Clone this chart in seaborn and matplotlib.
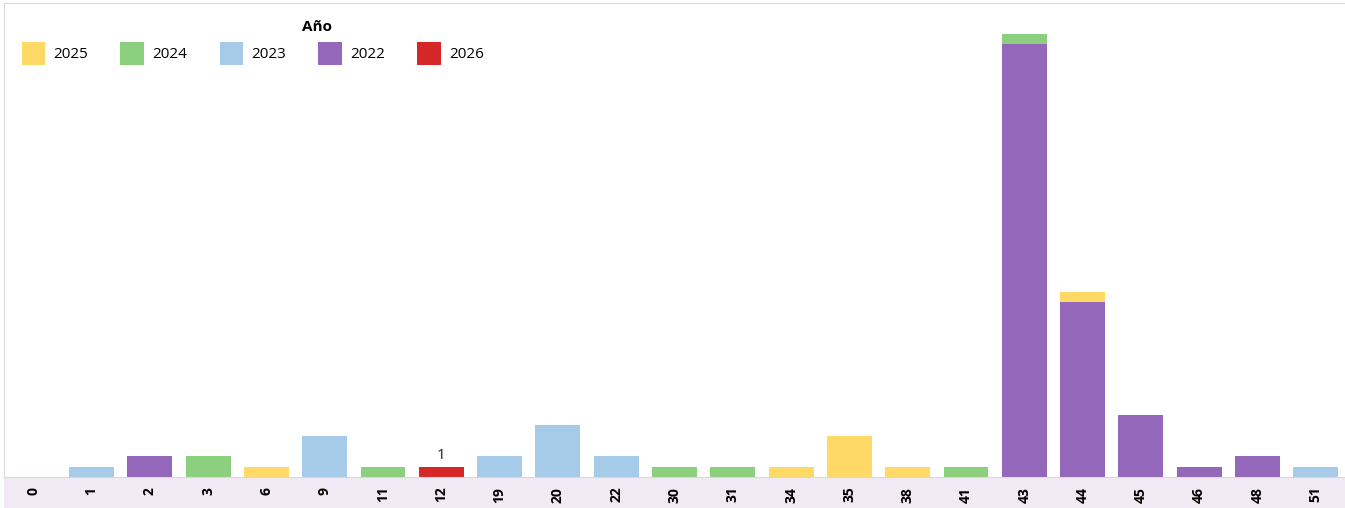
import pandas as pd
import matplotlib.pyplot as plt
import seaborn as sns
from matplotlib.patches import Patch, Rectangle

# Category labels on the x axis (in display order)
categories = ['0', '1', '2', '3', '6', '9', '11', '12', '19', '20', '22', '30',
              '31', '34', '35', '38', '41', '43', '44', '45', '46', '48', '51']

# Counts per year for each category
year_2022 = [0, 0, 2, 0, 0, 0, 0, 0, 0, 0, 0, 0, 0, 0, 0, 0, 0, 42, 17, 6, 1, 2, 0]
year_2023 = [0, 1, 0, 0, 0, 4, 0, 0, 2, 5, 2, 0, 0, 0, 0, 0, 0, 0, 0, 0, 0, 0, 1]
year_2024 = [0, 0, 0, 2, 0, 0, 1, 0, 0, 0, 0, 1, 1, 0, 0, 0, 1, 1, 0, 0, 0, 0, 0]
year_2025 = [0, 0, 0, 0, 1, 0, 0, 0, 0, 0, 0, 0, 0, 1, 4, 1, 0, 0, 1, 0, 0, 0, 0]
year_2026 = [0, 0, 0, 0, 0, 0, 0, 1, 0, 0, 0, 0, 0, 0, 0, 0, 0, 0, 0, 0, 0, 0, 0]

legend_order = ['2025', '2024', '2023', '2022', '2026']
palette = {'2025': '#ffd966', '2024': '#8ccf7e', '2023': '#a6cbe8',
           '2022': '#9467bb', '2026': '#d62728'}

series = {'2022': year_2022, '2023': year_2023, '2024': year_2024,
          '2025': year_2025, '2026': year_2026}
rows = []
for year, vals in series.items():
    for cat, v in zip(categories, vals):
        rows.append({'cat': cat, 'year': year, 'n': v})
df = pd.DataFrame(rows)

sns.set_style('white')
plt.rcParams['font.family'] = ['Open Sans', 'DejaVu Sans']

fig = plt.figure(figsize=(13.45, 5.08), dpi=100)
ax = fig.add_axes([4 / 1345, 31 / 508, 1 - 4 / 1345, (508 - 3 - 31) / 508])

# last hue level ends up at the bottom of the stack
sns.histplot(data=df, x='cat', weights='n', hue='year',
             hue_order=['2026', '2025', '2024', '2023', '2022'],
             multiple='stack', discrete=True, shrink=0.77,
             palette=palette, alpha=1, linewidth=0, legend=False, ax=ax)

ax.set_xlim(-0.5, len(categories) - 0.5)
ax.set_ylim(0, 46)
ax.set_xlabel('')
ax.set_ylabel('')
ax.set_yticks([])

ax.set_xticks(range(len(categories)))
ax.set_xticklabels(categories, rotation=90, fontsize=10, fontweight='bold', color='black')
ax.set_xticks([i - 0.5 for i in range(len(categories) + 1)], minor=True)
ax.tick_params(axis='x', which='major', length=0, pad=7)
ax.tick_params(axis='x', which='minor', length=5, color='#cccccc', width=1)

for side in ['left', 'top', 'bottom']:
    ax.spines[side].set_color('#d9d9d9')
ax.spines['right'].set_visible(False)

# light band behind the x tick labels
ax.add_patch(Rectangle((0, -31 / 474), 1, 31 / 474, transform=ax.transAxes,
                       facecolor='#f1e9f3', edgecolor='none', clip_on=False, zorder=-1))

# value label on the 2026 bar
i12 = categories.index('12')
ax.text(i12, year_2026[i12] + 0.4, str(year_2026[i12]), ha='center', va='bottom',
        fontsize=11, color='#222222')

handles = [Patch(facecolor=palette[y], edgecolor='none') for y in legend_order]
fig.legend(handles, legend_order, ncol=5, loc='upper left', frameon=False,
           bbox_to_anchor=(0.0058, 0.944), fontsize=11, handlelength=1.55,
           handleheight=1.9, handletextpad=0.55, columnspacing=2.1,
           labelcolor='black')
fig.text(302 / 1345, 1 - 27 / 508, 'Año', fontsize=11, fontweight='bold',
         ha='left', va='center', color='black')

fig.savefig('out.png', dpi=100)
